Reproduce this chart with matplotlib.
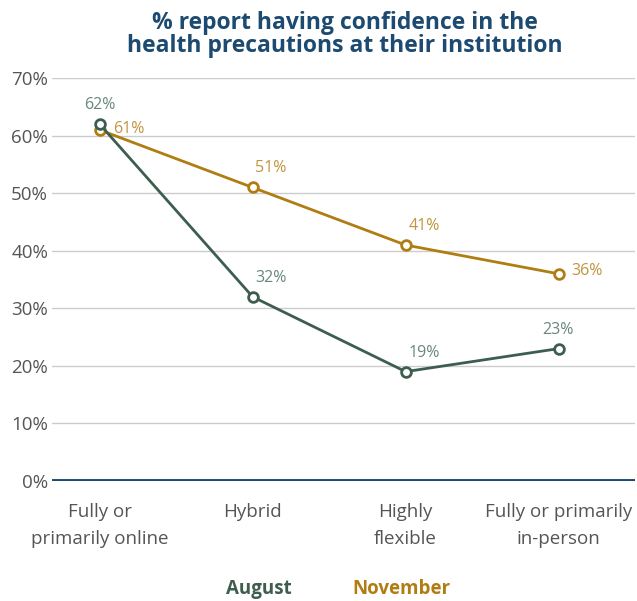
import matplotlib
matplotlib.use("Agg")
import matplotlib.pyplot as plt

categories = ["Fully or\nprimarily online", "Hybrid", "Highly\nflexible", "Fully or primarily\nin-person"]
august = [62, 32, 19, 23]
november = [61, 51, 41, 36]
series_names = ["August", "November"]
yticks = [0, 10, 20, 30, 40, 50, 60, 70]

AUG = "#3d5e4f"
AUG_LBL = "#6a877a"
NOV = "#b07d12"
NOV_LBL = "#c0953e"
NAVY = "#1c4a70"

plt.rcParams["font.family"] = ["Open Sans", "DejaVu Sans"]

fig = plt.figure(figsize=(6.37, 6.01), dpi=100)
ax = fig.add_axes([0.082, 0.1997, 0.915, 0.6703])

x = list(range(len(categories)))
for vals, col in [(november, NOV), (august, AUG)]:
    ax.plot(x, vals, color=col, lw=2, marker="o", ms=7, mfc="white",
            mec=col, mew=2, zorder=3, clip_on=False)

# value labels (offsets in points)
aug_off = [(0, 8, "center"), (2, 8, "left"), (2, 8, "left"), (-12, 8, "left")]
nov_off = [(10, 1, "left"), (2, 8, "left"), (2, 8, "left"), (9, 2, "left")]
for i, v in enumerate(august):
    dx, dy, ha = aug_off[i]
    ax.annotate(f"{v}%", (i, v), xytext=(dx, dy), textcoords="offset points",
                ha=ha, va="bottom", color=AUG_LBL, fontsize=11.5)
for i, v in enumerate(november):
    dx, dy, ha = nov_off[i]
    ax.annotate(f"{v}%", (i, v), xytext=(dx, dy), textcoords="offset points",
                ha=ha, va="bottom" if dy > 3 else "center", color=NOV_LBL,
                fontsize=11.5)

ax.set_ylim(0, 70)
ax.set_xlim(-0.31, 3.5)
ax.set_yticks(yticks)
ax.set_yticklabels([f"{t}%" for t in yticks])
ax.set_xticks(x)
ax.set_xticklabels(categories, linespacing=1.6)
ax.grid(axis="y", color="#cccccc", lw=1)
ax.axhline(0, color=NAVY, lw=2.8, zorder=2)
ax.set_axisbelow(True)
for s in ax.spines.values():
    s.set_visible(False)
ax.tick_params(axis="both", length=0, labelsize=13.5, labelcolor="#555555")
ax.tick_params(axis="y", pad=3)
ax.tick_params(axis="x", pad=16)

fig.text(0.542, 0.982, "% report having confidence in the\nhealth precautions at their institution",
         ha="center", va="top", fontsize=16.5, fontweight="bold", color=NAVY,
         linespacing=0.98)

fig.text(0.407, 0.004, series_names[0], ha="center", va="bottom", fontsize=13.5,
         fontweight="bold", color=AUG)
fig.text(0.630, 0.004, series_names[1], ha="center", va="bottom", fontsize=13.5,
         fontweight="bold", color=NOV)

fig.savefig("out.png", dpi=100, facecolor="white")
